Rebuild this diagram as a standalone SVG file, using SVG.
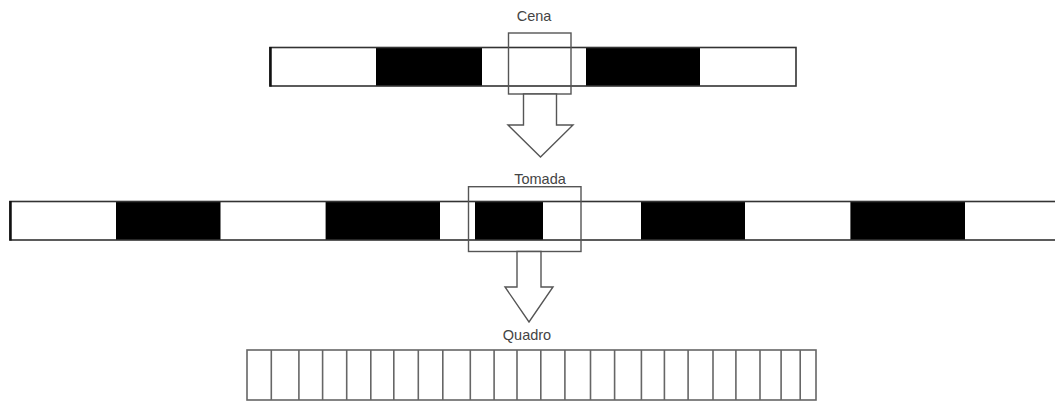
<svg xmlns="http://www.w3.org/2000/svg" width="1055" height="402" viewBox="0 0 1055 402">
  <style>
    .lbl { font-family: "Liberation Sans", Arial, sans-serif; font-size: 14.5px; fill: #444; text-anchor: middle; }
    .blk { fill: #000; }
    .bar { fill: none; stroke: #333; stroke-width: 1.6; }
    .edge { stroke: #111; stroke-width: 2.5; }
    .sel { fill: none; stroke: #555; stroke-width: 1.4; }
    .arrow { fill: #fff; stroke: #555; stroke-width: 1.4; stroke-linejoin: miter; }
    .frame { fill: #fff; stroke: #666; stroke-width: 1.6; }
    .div { stroke: #666; stroke-width: 1.6; }
  </style>
  <rect width="1055" height="402" fill="#fff"/>

  <g id="cena">
    <rect x="270" y="47.5" width="526" height="38.5" fill="#fff"/>
    <rect class="blk" x="376" y="47.5" width="106" height="38.5"/>
    <rect class="blk" x="586" y="47.5" width="114" height="38.5"/>
    <rect class="bar" x="270" y="47.5" width="526" height="38.5"/>
    <line class="edge" x1="270.5" y1="47" x2="270.5" y2="86.5"/>
    <rect class="sel" x="508.5" y="33" width="62.5" height="61"/>
    <text class="lbl" x="534" y="21">Cena</text>
  </g>

  <g id="tomada">
    <rect x="10" y="201.5" width="1060" height="38.5" fill="#fff"/>
    <rect class="blk" x="116" y="201.5" width="104.5" height="38.5"/>
    <rect class="blk" x="325.6" y="201.5" width="114.4" height="38.5"/>
    <rect class="blk" x="475" y="201.5" width="68" height="38.5"/>
    <rect class="blk" x="641" y="201.5" width="104" height="38.5"/>
    <rect class="blk" x="850.4" y="201.5" width="114.6" height="38.5"/>
    <rect class="bar" x="10" y="201.5" width="1060" height="38.5"/>
    <line class="edge" x1="10.5" y1="201" x2="10.5" y2="240.5"/>
    <rect class="sel" x="468.5" y="186.7" width="112.5" height="64.8"/>
    <text class="lbl" x="540" y="183.5">Tomada</text>
  </g>

  <g id="quadro">
    <rect class="frame" x="247" y="350" width="569" height="50"/>
    <g>
      <line class="div" x1="271.3" y1="350" x2="271.3" y2="400"/>
      <line class="div" x1="298.9" y1="350" x2="298.9" y2="400"/>
      <line class="div" x1="322.6" y1="350" x2="322.6" y2="400"/>
      <line class="div" x1="346.7" y1="350" x2="346.7" y2="400"/>
      <line class="div" x1="370.8" y1="350" x2="370.8" y2="400"/>
      <line class="div" x1="393.8" y1="350" x2="393.8" y2="400"/>
      <line class="div" x1="418.3" y1="350" x2="418.3" y2="400"/>
      <line class="div" x1="442.8" y1="350" x2="442.8" y2="400"/>
      <line class="div" x1="470.3" y1="350" x2="470.3" y2="400"/>
      <line class="div" x1="494.1" y1="350" x2="494.1" y2="400"/>
      <line class="div" x1="517.0" y1="350" x2="517.0" y2="400"/>
      <line class="div" x1="540.8" y1="350" x2="540.8" y2="400"/>
      <line class="div" x1="564.9" y1="350" x2="564.9" y2="400"/>
      <line class="div" x1="590.5" y1="350" x2="590.5" y2="400"/>
      <line class="div" x1="614.6" y1="350" x2="614.6" y2="400"/>
      <line class="div" x1="641.4" y1="350" x2="641.4" y2="400"/>
      <line class="div" x1="664.4" y1="350" x2="664.4" y2="400"/>
      <line class="div" x1="688.1" y1="350" x2="688.1" y2="400"/>
      <line class="div" x1="713.0" y1="350" x2="713.0" y2="400"/>
      <line class="div" x1="735.9" y1="350" x2="735.9" y2="400"/>
      <line class="div" x1="760.0" y1="350" x2="760.0" y2="400"/>
      <line class="div" x1="781.1" y1="350" x2="781.1" y2="400"/>
      <line class="div" x1="800.2" y1="350" x2="800.2" y2="400"/>
    </g>
    <text class="lbl" x="527" y="340">Quadro</text>
  </g>

  <g id="connectors">
    <polygon class="arrow" points="523.5,94 556.5,94 556.5,125 573,125 540.5,157 508,125 523.5,125"/>
    <polygon class="arrow" points="517,251.5 541,251.5 541,287 553,287 529,322 505,287 517,287"/>
  </g>
</svg>
